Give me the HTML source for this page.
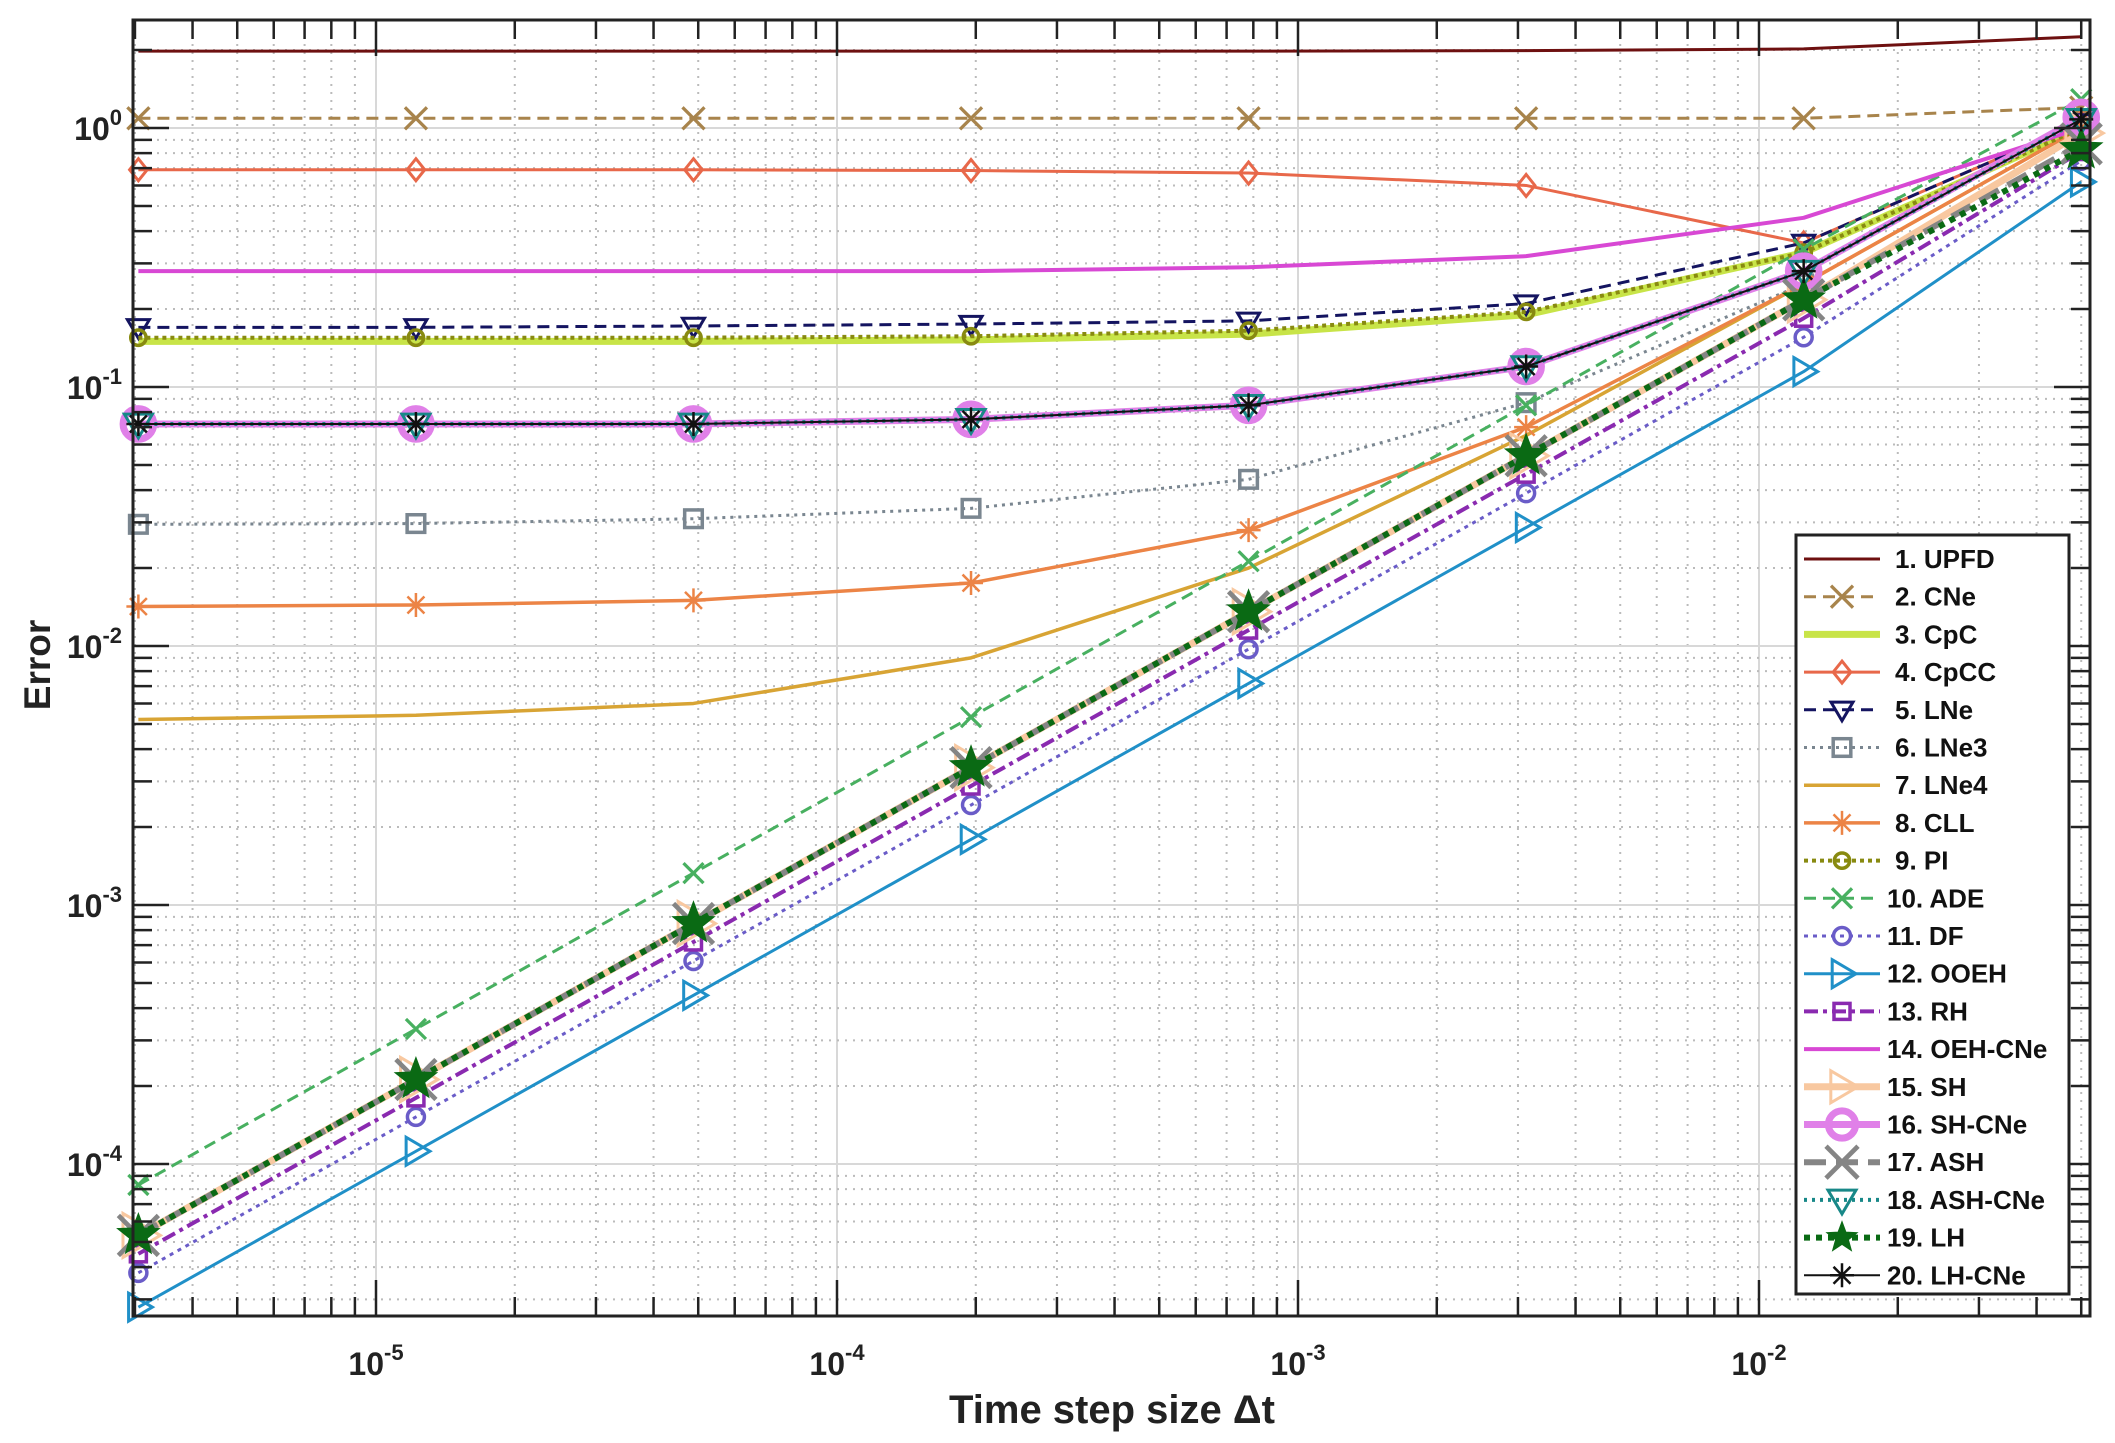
<!DOCTYPE html>
<html><head><meta charset="utf-8"><style>
html,body{margin:0;padding:0;background:#fff;}
svg{display:block;font-family:"Liberation Sans",Arial,sans-serif;}
</style></head><body>
<svg id="s" width="2115" height="1443" viewBox="0 0 2115 1443" xmlns="http://www.w3.org/2000/svg">
<rect width="2115" height="1443" fill="#fff"/>
<g id="grid"></g>
<g id="series"></g>
<g id="axes"></g>
<g id="legend"></g>
<text x="1112" y="1423" font-size="40" font-weight="bold" text-anchor="middle" fill="#222">Time step size Δt</text>
<text transform="translate(50,665) rotate(-90)" font-size="37" font-weight="bold" text-anchor="middle" fill="#222">Error</text>
</svg>
<script>
const NS="http://www.w3.org/2000/svg";
const L=133,R=2090,T=20,B=1316;
const X=v=>376+(Math.log10(v)+5)*461;
const Y=v=>128-Math.log10(v)*259;
function el(p,tag,a,txt){const e=document.createElementNS(NS,tag);for(const k in a)e.setAttribute(k,a[k]);if(txt!==undefined)e.textContent=txt;p.appendChild(e);return e;}
const grid=document.getElementById('grid'),axes=document.getElementById('axes'),ser=document.getElementById('series'),leg=document.getElementById('legend');
for(let d=-6;d<=-1;d++){for(let m=1;m<=9;m++){const v=m*Math.pow(10,d);const x=X(v);if(x<L+1||x>R-1)continue;
 if(m==1)el(grid,'line',{x1:x,y1:T,x2:x,y2:B,stroke:'#d8d8d8','stroke-width':2});
 else el(grid,'line',{x1:x,y1:T,x2:x,y2:B,stroke:'#bbb','stroke-width':2,'stroke-dasharray':'2 6'});
 const len=m==1?36:19;
 el(axes,'line',{x1:x,y1:B,x2:x,y2:B-len,stroke:'#222','stroke-width':2.5});
 el(axes,'line',{x1:x,y1:T,x2:x,y2:T+len,stroke:'#222','stroke-width':2.5});
}}
for(let d=-5;d<=0;d++){for(let m=1;m<=9;m++){const v=m*Math.pow(10,d);const y=Y(v);if(y<T+1||y>B-1)continue;
 if(m==1)el(grid,'line',{x1:L,y1:y,x2:R,y2:y,stroke:'#d8d8d8','stroke-width':2});
 else el(grid,'line',{x1:L,y1:y,x2:R,y2:y,stroke:'#bbb','stroke-width':2,'stroke-dasharray':'2 6'});
 const len=m==1?36:19;
 el(axes,'line',{x1:L,y1:y,x2:L+len,y2:y,stroke:'#222','stroke-width':2.5});
 el(axes,'line',{x1:R,y1:y,x2:R-len,y2:y,stroke:'#222','stroke-width':2.5});
}}
el(axes,'rect',{x:L,y:T,width:R-L,height:B-T,fill:'none',stroke:'#222','stroke-width':3});
function tl(x,y,e,anchor){const t=el(axes,'text',{x:x,y:y,'font-size':32,'font-weight':600,fill:'#222','text-anchor':anchor});
 el(t,'tspan',{},'10');el(t,'tspan',{'font-size':22,dy:-15},e);}
[-5,-4,-3,-2].forEach(d=>tl(X(Math.pow(10,d)),1375,String(d),'middle'));
for(let d=-4;d<=0;d++){tl(122,Y(Math.pow(10,d))+12,String(d),'end');}
const xs=[];for(let k=7;k>=0;k--)xs.push(0.05/Math.pow(4,k));
const lin=(a,f)=>xs.map((_,i)=>a*Math.pow(4,i)*(f&&i==7?f:1));
const S=[
{n:'1. UPFD',c:'#6e1010',w:3,v:[1.98,1.98,1.98,1.98,1.98,1.99,2.02,2.25]},
{n:'2. CNe',c:'#a8844c',w:3,d:'12 7',m:'x',ms:11,v:[1.09,1.09,1.09,1.09,1.09,1.09,1.09,1.2]},
{n:'3. CpC',c:'#c8e448',w:7,v:[0.15,0.15,0.15,0.152,0.16,0.19,0.33,1.0]},
{n:'4. CpCC',c:'#e8684a',w:3,m:'d',ms:11,v:[0.69,0.69,0.69,0.685,0.67,0.6,0.36,1.05]},
{n:'5. LNe',c:'#141460',w:3,d:'12 7',m:'tv',ms:11,v:[0.17,0.17,0.172,0.175,0.18,0.21,0.36,1.05]},
{n:'6. LNe3',c:'#7a8690',w:3,d:'3 5',m:'sq',ms:11,v:[0.0295,0.0297,0.031,0.034,0.044,0.087,0.25,1.0]},
{n:'7. LNe4',c:'#d8a434',w:3.5,v:[0.0052,0.0054,0.006,0.009,0.02,0.065,0.25,1.0]},
{n:'8. CLL',c:'#ec8446',w:3.5,m:'ast',ms:12,v:[0.0142,0.0144,0.015,0.0175,0.028,0.07,0.25,1.0]},
{n:'9. PI',c:'#888a10',w:4,d:'4 4',m:'o',ms:9,v:[0.155,0.155,0.155,0.157,0.165,0.195,0.33,1.0]},
{n:'10. ADE',c:'#48b060',w:3,d:'12 7',m:'x',ms:10,v:lin(8.3e-5,0.95)},
{n:'11. DF',c:'#6a5cc8',w:3,d:'4 5',m:'o',ms:10,v:lin(3.8e-5,1.2)},
{n:'12. OOEH',c:'#2090c8',w:3,m:'tr',ms:14,v:lin(2.8e-5,1.35)},
{n:'13. RH',c:'#8a2ab0',w:4,d:'14 5 4 5',m:'sq',ms:10,v:lin(4.5e-5,1.1)},
{n:'14. OEH-CNe',c:'#d848d4',w:4,v:[0.28,0.28,0.28,0.28,0.29,0.32,0.45,1.0]},
{n:'15. SH',c:'#f8c8a0',w:7,m:'tr',ms:22,v:lin(5.3e-5,1.1)},
{n:'16. SH-CNe',c:'#e080e8',w:7,m:'o',ms:18,v:[0.072,0.072,0.072,0.075,0.085,0.12,0.28,1.1]},
{n:'17. ASH',c:'#858585',w:6,d:'22 10',m:'x',ms:20,v:lin(5.3e-5,1.0)},
{n:'18. ASH-CNe',c:'#188888',w:4,d:'3 5',m:'tv',ms:14,v:[0.072,0.072,0.072,0.075,0.085,0.12,0.28,1.08]},
{n:'19. LH',c:'#0a6a14',w:6,d:'6 6',m:'star',ms:22,v:lin(5.3e-5,0.95)},
{n:'20. LH-CNe',c:'#111',w:2,m:'ast',ms:12,v:[0.072,0.072,0.072,0.075,0.085,0.12,0.28,1.08]},
];
function marker(p,t,x,y,s,c,w){
 const sw=Math.max(2.5,w*0.6);
 if(t=='x'){el(p,'path',{d:`M${x-s} ${y-s}L${x+s} ${y+s}M${x-s} ${y+s}L${x+s} ${y-s}`,stroke:c,'stroke-width':sw*1.3,fill:'none'});}
 else if(t=='d'){el(p,'path',{d:`M${x} ${y-s}L${x+s*0.8} ${y}L${x} ${y+s}L${x-s*0.8} ${y}Z`,stroke:c,'stroke-width':3,fill:'none'});}
 else if(t=='tv'){el(p,'path',{d:`M${x-s} ${y-s*0.7}L${x+s} ${y-s*0.7}L${x} ${y+s}Z`,stroke:c,'stroke-width':3,fill:'none'});}
 else if(t=='tr'){el(p,'path',{d:`M${x-s*0.7} ${y-s}L${x+s} ${y}L${x-s*0.7} ${y+s}Z`,stroke:c,'stroke-width':3,fill:'none'});}
 else if(t=='sq'){el(p,'rect',{x:x-s*0.8,y:y-s*0.8,width:s*1.6,height:s*1.6,stroke:c,'stroke-width':3.5,fill:'none'});}
 else if(t=='o'){el(p,'circle',{cx:x,cy:y,r:s*0.85,stroke:c,'stroke-width':s>15?7:3.5,fill:'none'});}
 else if(t=='ast'){let d='';for(let a=0;a<4;a++){const an=a*Math.PI/4;d+=`M${x-s*Math.cos(an)} ${y-s*Math.sin(an)}L${x+s*Math.cos(an)} ${y+s*Math.sin(an)}`;}el(p,'path',{d:d,stroke:c,'stroke-width':2.5,fill:'none'});}
 else if(t=='star'){let d='';for(let i=0;i<10;i++){const r=i%2?s*0.42:s;const an=-Math.PI/2+i*Math.PI/5;d+=(i?'L':'M')+(x+r*Math.cos(an))+' '+(y+r*Math.sin(an));}el(p,'path',{d:d+'Z',fill:c,stroke:c,'stroke-width':1});}
}
S.forEach(s=>{
 const pts=xs.map((x,i)=>[Math.max(X(x),L+2),Y(s.v[i])]);
 const a={points:pts.map(p=>p.join(',')).join(' '),fill:'none',stroke:s.c,'stroke-width':s.w,'stroke-linejoin':'round'};
 if(s.d)a['stroke-dasharray']=s.d;
 el(ser,'polyline',a);
 if(s.m)pts.forEach(p=>marker(ser,s.m,p[0],p[1],s.ms,s.c,s.w));
});
el(leg,'rect',{x:1796,y:535,width:273,height:759,fill:'#fff',stroke:'#222','stroke-width':3});
S.forEach((s,i)=>{
 const y=559+i*37.7;
 const a={x1:1804,y1:y,x2:1880,y2:y,stroke:s.c,'stroke-width':s.w};
 if(s.d)a['stroke-dasharray']=s.d;
 el(leg,'line',a);
 if(s.m)marker(leg,s.m,1842,y,Math.min(s.ms,16),s.c,s.w);
 el(leg,'text',{x:i<9?1895:1887,y:y+9,'font-size':26,'font-weight':'bold',fill:'#111'},s.n);
});
</script>
</body></html>
